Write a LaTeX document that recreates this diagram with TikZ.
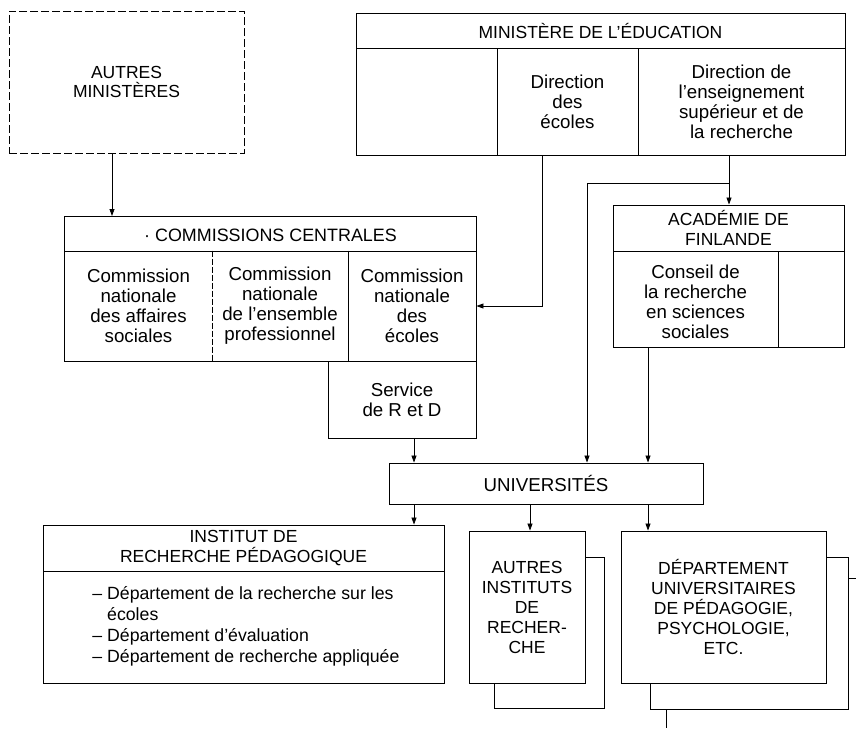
\documentclass[tikz,border=0pt]{standalone}
\usepackage{fontspec}
\setmainfont{Liberation Sans}
\usetikzlibrary{arrows.meta}
\begin{document}
\begin{tikzpicture}[x=1pt,y=-1pt, line width=0.9pt,
  txt/.style={font=\fontsize{17.5}{20}\selectfont, align=center, inner sep=0pt},
  mtxt/.style={txt, font=\fontsize{18.7}{20}\selectfont},
  cell/.style={txt, draw},
  mcell/.style={mtxt, draw},
  arr/.style={-{Triangle[length=7pt,width=5pt]}, line width=0.8pt}]
\useasboundingbox[fill=white] (0,0) rectangle (856,728);

% Autres ministeres
\node[cell, dash pattern=on 8pt off 3pt, minimum width=235, minimum height=142, font=\fontsize{17.5}{19}\selectfont] (autres) at (126.5,82) {AUTRES\\MINISTÈRES};

% Ministere de l'education
\node[cell, minimum width=489, minimum height=35] (minh) at (600.5,30.5) {MINISTÈRE DE L'ÉDUCATION};
\node[cell, minimum width=141, minimum height=107] (min1) at (426.5,101.5) {};
\node[mcell, minimum width=141, minimum height=107] (min2) at (567.5,101.5) {Direction\\des\\écoles};
\node[mcell, minimum width=207, minimum height=107] (min3) at (741.5,101.5) {Direction de\\l'enseignement\\supérieur et de\\la recherche};

% Commissions centrales
\node[txt, minimum width=411, minimum height=35, font=\fontsize{17.9}{20}\selectfont] (comh) at (270.5,235) {· COMMISSIONS CENTRALES};
\node[mtxt, minimum width=147, minimum height=110] (com1) at (138.5,306) {Commission\\nationale\\des affaires\\sociales};
\node[mtxt, minimum width=136, minimum height=110] (com2) at (280,306) {Commission\\nationale\\de l'ensemble\\professionnel};
\node[mtxt, minimum width=128, minimum height=110] (com3) at (412,306) {Commission\\nationale\\des\\écoles};
\draw (comh.north west |- 0,216) rectangle (com3.south east);
\draw (comh.west |- 0,251) -- (comh.east |- 0,251);
\draw[dash pattern=on 6pt off 2pt] (com1.north east) -- (com1.south east);
\draw (com2.north east) -- (com2.south east);

\node[mcell, minimum width=148, minimum height=77] (serv) at (402,399.5) {Service\\de R et D};

% Academie de Finlande
\node[cell, minimum width=231, minimum height=46] (acah) at (728.5,228) {ACADÉMIE DE\\FINLANDE};
\node[mcell, minimum width=165, minimum height=96] (aca1) at (695.5,299) {};
\node[mtxt] (aca1t) at (695.5,302) {Conseil de\\la recherche\\en sciences\\sociales};
\node[cell, minimum width=66, minimum height=96] (aca2) at (811,299) {};

% Universites
\node[cell, minimum width=314, minimum height=41, font=\fontsize{18.7}{20}\selectfont] (univ) at (546,483.5) {UNIVERSITÉS};

% Institut
\node[cell, minimum width=401, minimum height=46] (insh) at (243.5,548) {INSTITUT DE\\RECHERCHE PÉDAGOGIQUE};
\node[cell, minimum width=401, minimum height=112] (insb) at (243.5,627) {};
\node[txt, align=left, anchor=west, font=\fontsize{17.7}{21}\selectfont] (insl) at (92,626) {– Département de la recherche sur les\\\phantom{– }écoles\\– Département d'évaluation\\– Département de recherche appliquée};

% Autres instituts
\draw (585,557) -- (604,557) -- (604,708) -- (494,708) -- (494,683);
\node[cell, minimum width=116, minimum height=152] (autinst) at (527,607) {AUTRES\\INSTITUTS\\DE\\RECHER-\\CHE};

% Departement
\draw (826,557) -- (848,557) -- (848,709) -- (650,709) -- (650,683);
\node[cell, minimum width=205, minimum height=152] (dep) at (723.5,607) {DÉPARTEMENT\\UNIVERSITAIRES\\DE PÉDAGOGIE,\\PSYCHOLOGIE,\\ETC.};
\coordinate (e1) at (856,578);
\coordinate (e2) at (666,728);
\draw (848,578) -- (e1);
\draw (666,709) -- (e2);

% Connectors
\coordinate (xA) at (112,0);
\coordinate (xB) at (542,0);
\coordinate (xC) at (729,0);
\coordinate (br) at (729,183);
\coordinate (xD) at (587,0);
\coordinate (xE) at (414,0);
\coordinate (xF) at (648,0);
\coordinate (xG) at (530,0);
\draw[arr] (autres.south -| xA) -- (xA |- 0,216);
\draw[arr] (min2.south -| xB) |- (com3.east);
\draw[arr] (min3.south -| xC) -- (acah.north -| xC);
\draw[arr] (br) -| (univ.north -| xD);
\draw[arr] (serv.south -| xE) -- (univ.north -| xE);
\draw[arr] (aca1.south -| xF) -- (univ.north -| xF);
\draw[arr] (univ.south -| xE) -- (insh.north -| xE);
\draw[arr] (univ.south -| xG) -- (autinst.north -| xG);
\draw[arr] (univ.south -| xF) -- (dep.north -| xF);
\end{tikzpicture}
\end{document}
